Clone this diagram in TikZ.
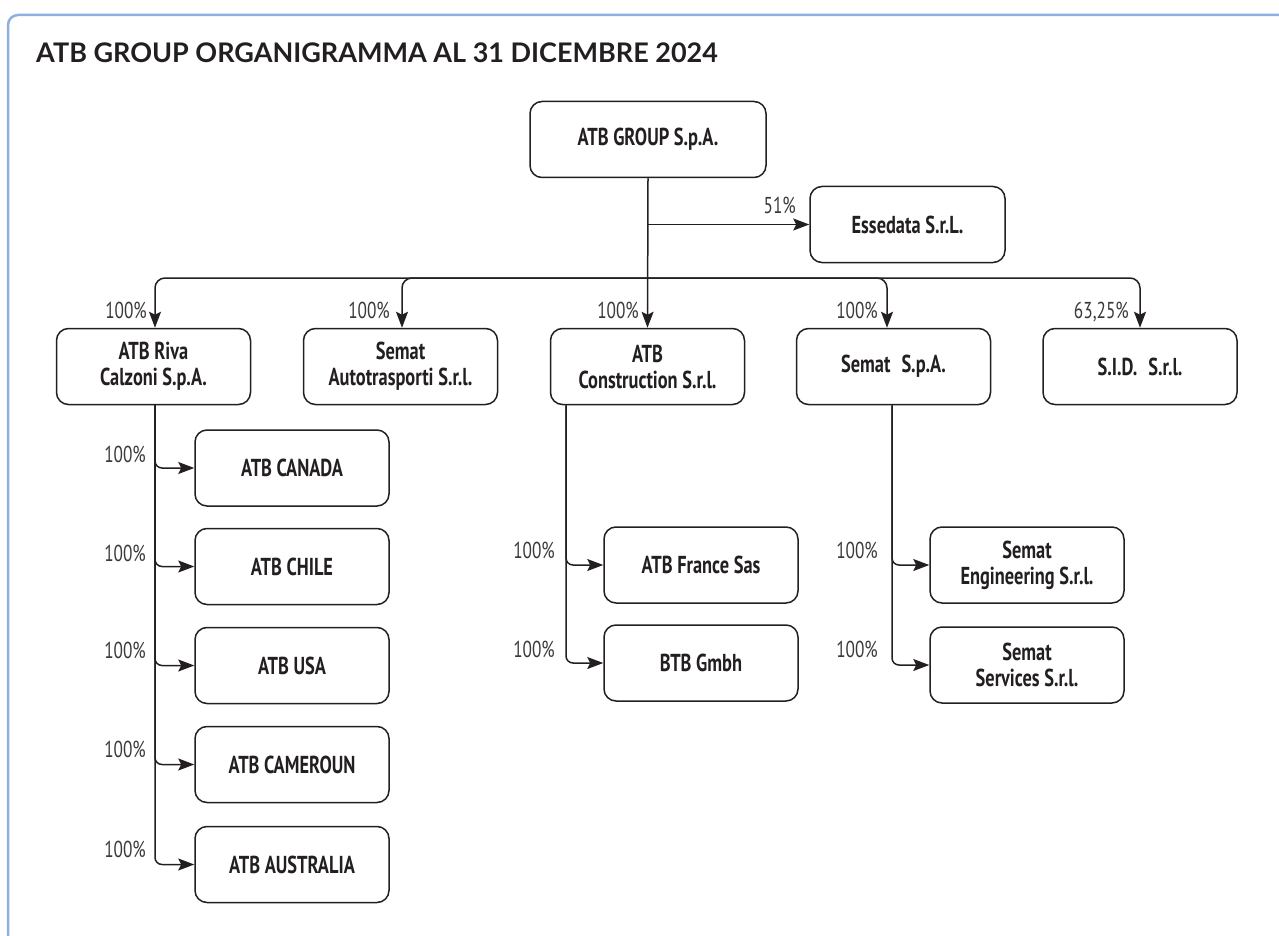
\documentclass[tikz,border=0pt]{standalone}
\usepackage{fontspec}
\setmainfont{PT Sans}
\newfontfamily\boxfont[FakeStretch=0.75]{PT Sans}
\newfontfamily\titlefont{Lato}
\usetikzlibrary{arrows.meta,calc}
\definecolor{framecol}{HTML}{8FB0DE}
\definecolor{ink}{HTML}{231F20}
\definecolor{pct}{HTML}{3A3A3A}
\begin{document}
\begin{tikzpicture}[x=1pt,y=-1pt,
  org/.style={draw=ink, line width=1.5pt, rounded corners=12pt, minimum width=194pt, minimum height=76pt, align=center, text=ink, inner sep=0pt, font=\boxfont\bfseries\fontsize{24.5}{26}\selectfont},
  link/.style={draw=ink, line width=1.5pt, -{Stealth[length=16pt,width=12pt,inset=3pt]}},
  pctlabel/.style={font=\boxfont\fontsize{23}{24}\selectfont, text=pct, inner sep=0pt, anchor=base east},
  titlestyle/.style={font=\titlefont\bfseries\fontsize{27}{30}\selectfont, text=ink, inner sep=0pt, anchor=base west}
]
\useasboundingbox (0,0) rectangle (1279,936);
\draw[framecol, line width=2.5pt, rounded corners=10pt] (8,940) -- (8,15) -- (1285,15);

\node[titlestyle] (title) at (36,63) {ATB GROUP ORGANIGRAMMA AL 31 DICEMBRE 2024};

\node[org, minimum width=236pt] (top) at (648,139.5) {ATB GROUP S.p.A.};
\node[org, minimum width=195pt] (esse) at (907.5,224.5) {Essedata S.r.L.};

\node[org] (riva) at (153.5,366.5) {ATB Riva\\Calzoni S.p.A.};
\node[org] (autotr) at (400.5,366.5) {Semat\\Autotrasporti S.r.l.};
\node[org] (constr) at (647.5,366.5) {ATB\\Construction S.r.l.};
\node[org] (sematspa) at (893.5,366.5) {Semat\hspace{0.45em}S.p.A.};
\node[org] (sid) at (1140,366.5) {S.I.D.\hspace{0.45em}S.r.l.};

\node[org] (canada) at (292,468) {ATB CANADA};
\node[org] (chile) at (292,566.5) {ATB CHILE};
\node[org] (usa) at (292,665.5) {ATB USA};
\node[org] (cameroun) at (292,764.5) {ATB CAMEROUN};
\node[org] (australia) at (292,864.5) {ATB AUSTRALIA};

\node[org] (france) at (701,565) {ATB France Sas};
\node[org] (btb) at (701,663) {BTB Gmbh};

\node[org] (seng) at (1027,565) {Semat\\Engineering S.r.l.};
\node[org] (sserv) at (1027,665) {Semat\\Services S.r.l.};

% connectors
\coordinate (bus) at (648,278);
\draw[link] (top.south) -- (constr.north);
\draw[link] (top.south |- esse.west) -- (esse.west);
\draw[link, rounded corners=10pt] (bus) -| ([xshift=1.5pt]riva.north);
\draw[link, rounded corners=10pt] (bus) -| ([xshift=1.5pt]autotr.north);
\draw[link, rounded corners=10pt] (bus) -| ([xshift=-6.5pt]sematspa.north);
\draw[link, rounded corners=10pt] (bus) -| (sid.north);

\foreach \n in {canada,chile,usa,cameroun,australia}
  \draw[link, rounded corners=7pt] ([xshift=1.5pt]riva.south) |- (\n.west);
\foreach \n in {france,btb}
  \draw[link, rounded corners=7pt] ([xshift=-81.5pt]constr.south) |- (\n.west);
\foreach \n in {seng,sserv}
  \draw[link, rounded corners=7pt] ([xshift=-1.5pt]sematspa.south) |- (\n.west);

% labels
\node[pctlabel] (p51) at (796,213) {51\%};
\node[pctlabel] (pr) at (147,318) {100\%};
\node[pctlabel] (pa) at (390,318) {100\%};
\node[pctlabel] (pc) at (639,318) {100\%};
\node[pctlabel] (ps) at (878,318) {100\%};
\node[pctlabel] (pd) at (1129,318) {63,25\%};
\node[pctlabel] (p1) at (146,462) {100\%};
\node[pctlabel] (p2) at (146,561) {100\%};
\node[pctlabel] (p3) at (146,658) {100\%};
\node[pctlabel] (p4) at (146,757) {100\%};
\node[pctlabel] (p5) at (146,857) {100\%};
\node[pctlabel] (p6) at (555,558) {100\%};
\node[pctlabel] (p7) at (555,657) {100\%};
\node[pctlabel] (p8) at (878,558) {100\%};
\node[pctlabel] (p9) at (878,657) {100\%};
\end{tikzpicture}
\end{document}
